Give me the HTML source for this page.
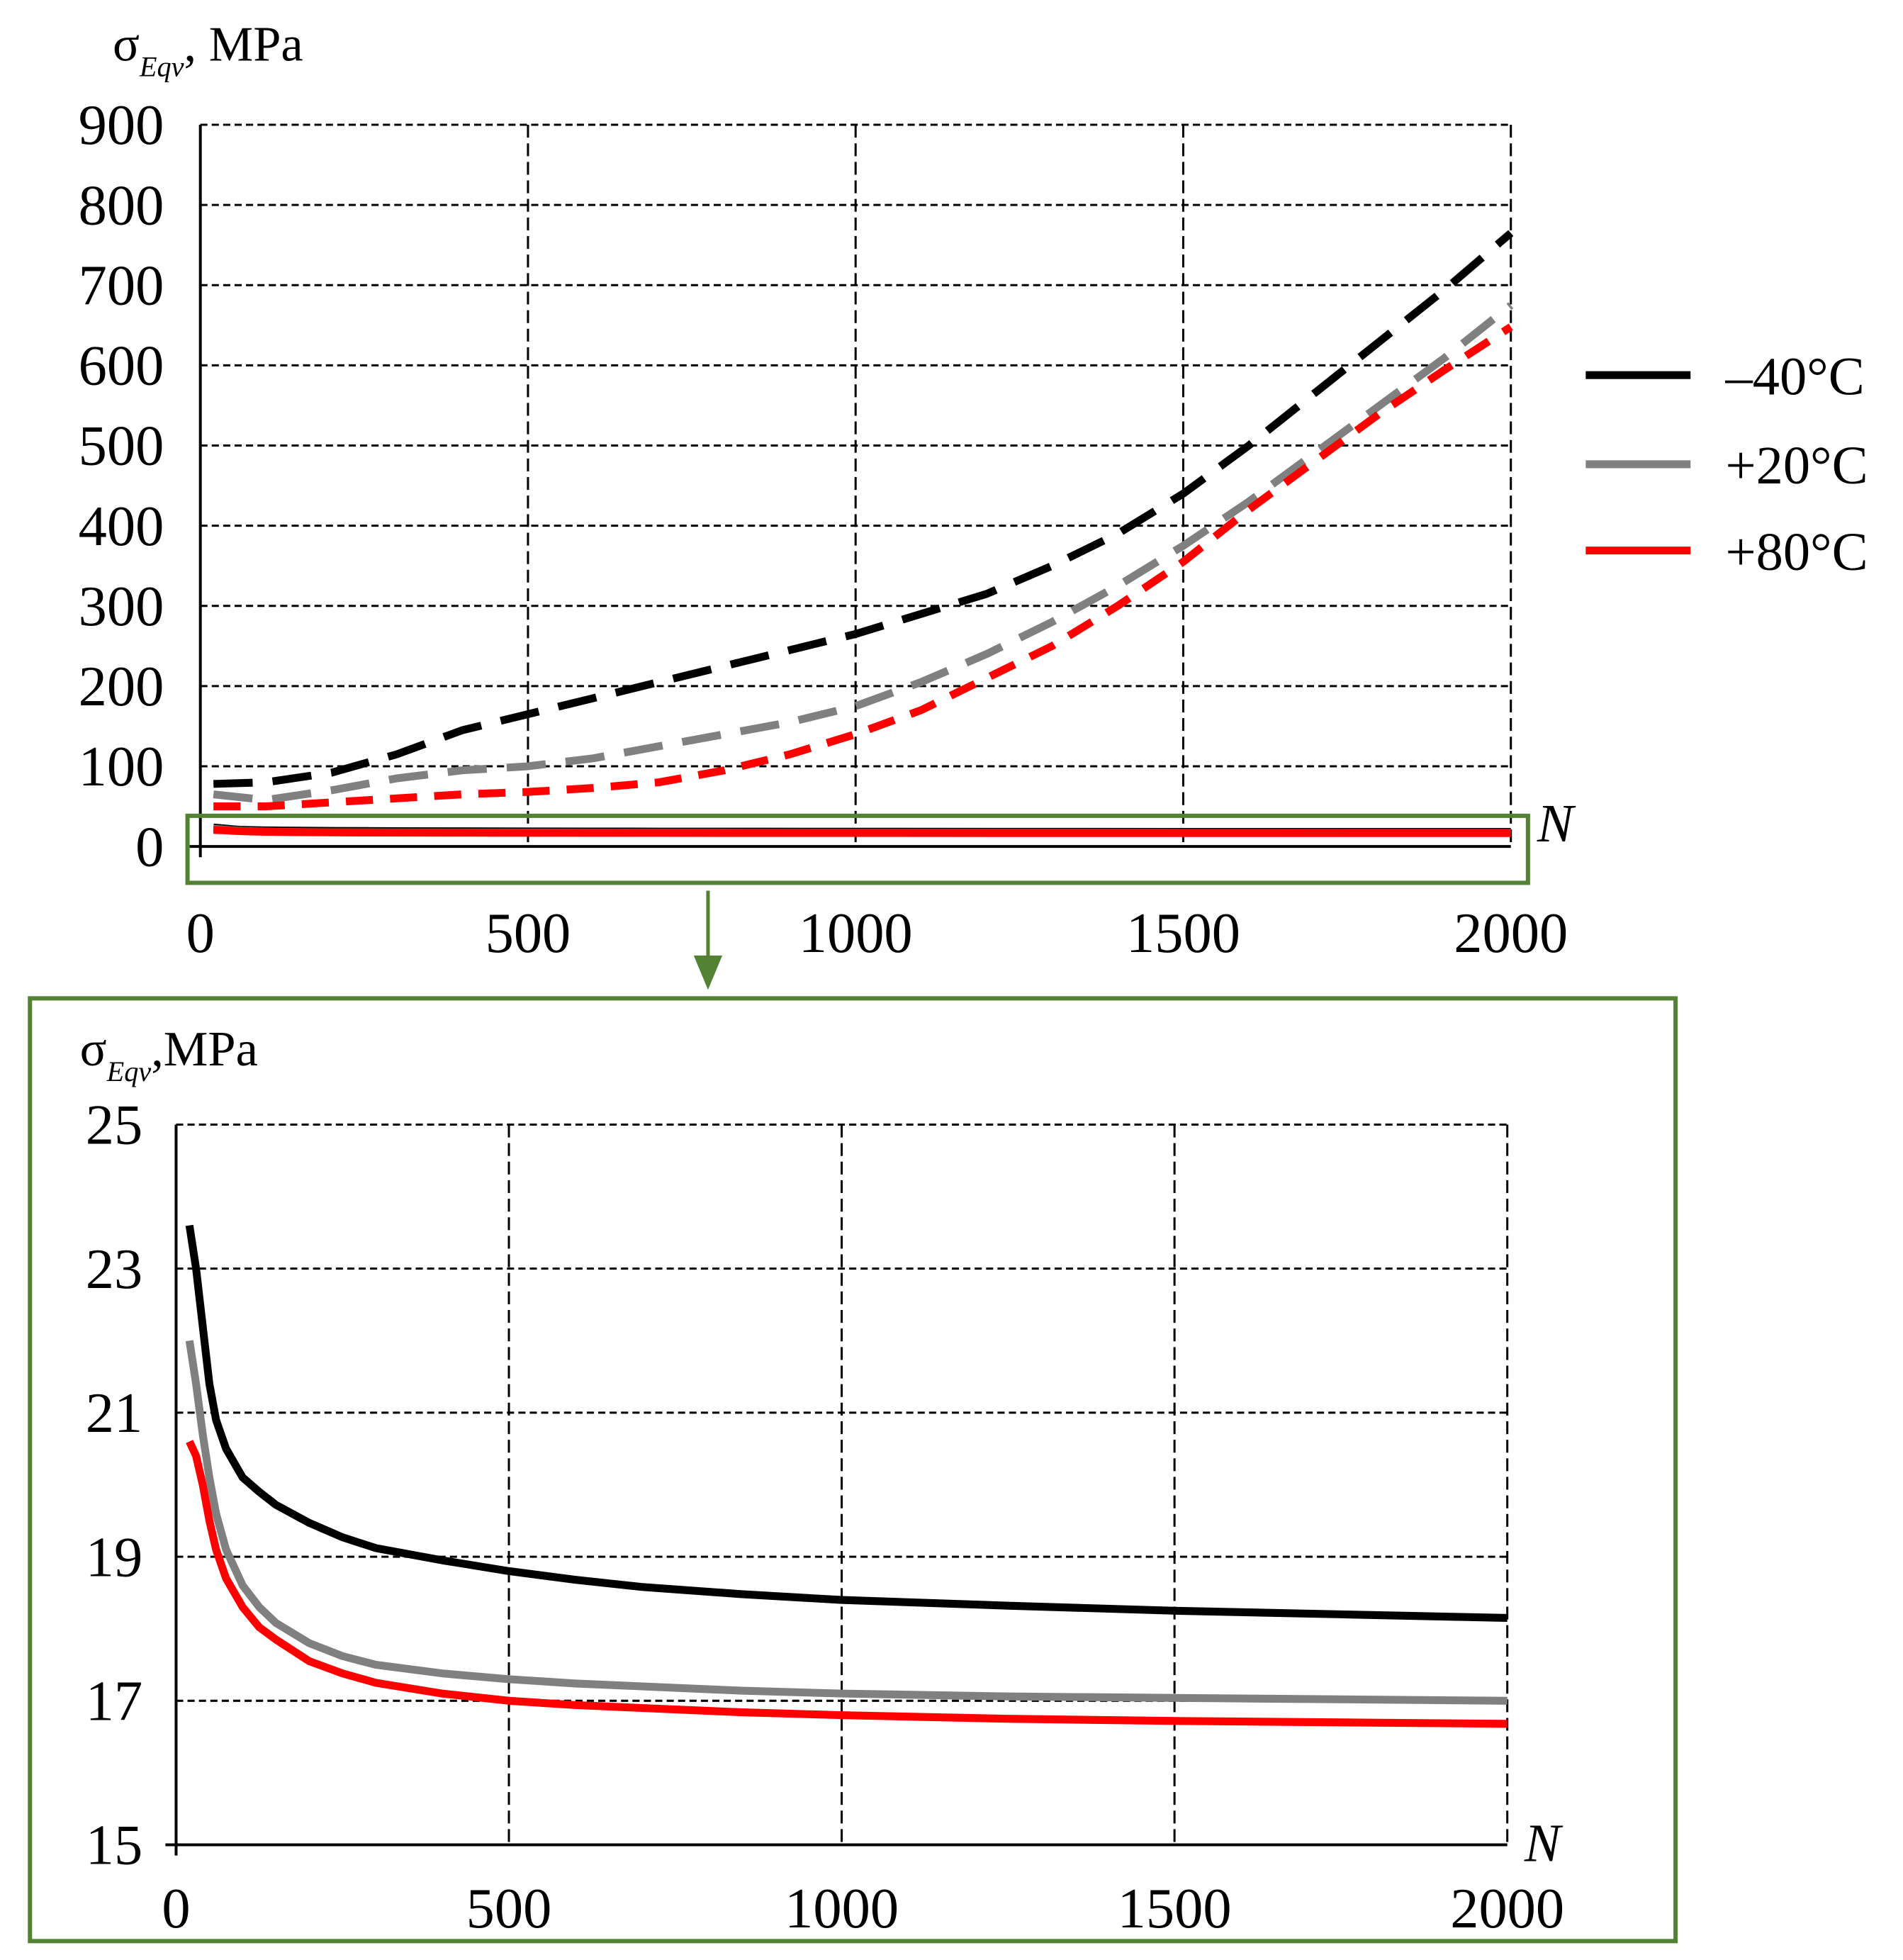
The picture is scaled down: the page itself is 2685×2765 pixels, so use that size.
<!DOCTYPE html>
<html><head><meta charset="utf-8"><style>
html,body{margin:0;padding:0;background:#fff}
svg{display:block}
text{font-family:"Liberation Serif",serif;fill:#000}
</style></head><body>
<svg id="s" width="2685" height="2765" viewBox="0 0 2685 2765" xmlns="http://www.w3.org/2000/svg">
<g id="g" transform="scale(1.006)"></g>
</svg>
<script>
// Top chart data
const topX = [0,100,200,300,400,500,600,700,800,900,1000,1100,1200,1300,1400,1500,1600,1700,1800,1900,2000];
const topBlack = [78,80,92,115,145,165,185,205,225,245,265,290,315,350,390,440,500,565,630,695,765];
const topGray = [65,58,70,85,95,100,110,125,140,155,175,205,240,280,325,375,430,490,550,610,675];
const topRed = [50,50,55,60,65,68,73,80,95,115,140,170,210,250,300,355,420,480,540,595,648];
const topYTicks = [0,100,200,300,400,500,600,700,800,900];
const xTicks = [0,500,1000,1500,2000];
// Bottom chart data
const botX = [20,30,40,50,60,75,100,125,150,200,250,300,400,500,600,700,850,1000,1250,1500,1750,2000];
const botBlack = [23.6,23.0,22.2,21.4,20.9,20.5,20.1,19.9,19.72,19.47,19.27,19.12,18.95,18.8,18.68,18.58,18.48,18.4,18.32,18.25,18.2,18.15];
const botGray = [22.0,21.4,20.7,20.1,19.6,19.1,18.6,18.3,18.08,17.8,17.62,17.5,17.38,17.3,17.24,17.2,17.14,17.1,17.06,17.04,17.02,17.0];
const botRed = [20.6,20.4,20.0,19.5,19.1,18.7,18.3,18.02,17.85,17.55,17.38,17.25,17.1,17.0,16.94,16.9,16.84,16.8,16.75,16.72,16.7,16.68];
const botYTicks = [15,17,19,21,23,25];
const legendLabels = ["\u201340\u00b0C","+20\u00b0C","+80\u00b0C"];

const NS="http://www.w3.org/2000/svg";
const G=document.getElementById('g');
function el(tag,attrs,parent){const e=document.createElementNS(NS,tag);for(const k in attrs)e.setAttribute(k,attrs[k]);(parent||G).appendChild(e);return e;}
function txt(x,y,s,size,anchor,parent){const t=el('text',{x:x,y:y,'font-size':size,'text-anchor':anchor||'start'},parent);t.textContent=s;return t;}

const tx=v=>281+(v/2000)*(2119-281);
const ty=v=>1187-(v/900)*(1187-175);
const bx=v=>247+(v/2000)*(2114-247);
const by=v=>2587-((v-15)/10)*(2587-1577);
function pts(xs,ys,fx,fy){return xs.map((x,i)=>fx(x)+','+fy(ys[i])).join(' ');}

// ---- TOP CHART ----
const topG=el('g',{});


topYTicks.forEach(v=>{
  if(v>0){const l=el('line',{x1:tx(0),x2:tx(2000),y1:ty(v),y2:ty(v),stroke:'#000','stroke-width':3,'stroke-dasharray':'10 6'},topG);
  
  }
  const t=txt(230,ty(v)+27,String(v),80,'end',topG);
  
  
});
xTicks.forEach(v=>{
  if(v>0){const l=el('line',{x1:tx(v),x2:tx(v),y1:ty(900),y2:ty(0),stroke:'#000','stroke-width':3,'stroke-dasharray':'18 8'},topG);
  
  }
  const t=txt(tx(v),1335,String(v),80,'middle',topG);
  
  
});
let a=el('line',{x1:tx(0),x2:tx(0),y1:ty(900),y2:ty(0)+15,stroke:'#000','stroke-width':4},topG);

a=el('line',{x1:tx(0)-15,x2:tx(2000),y1:ty(0),y2:ty(0),stroke:'#000','stroke-width':4},topG);


const topSeries=[[topBlack,'#000','55 28','series-minus40-dashed'],[topGray,'#808080','55 28','series-plus20-dashed'],[topRed,'#ff0000','38 24','series-plus80-dashed']];
topSeries.forEach(([ys,c,d,n])=>{
  const p=el('polyline',{points:pts(topX.map(v=>Math.max(v,20)),ys,tx,ty),fill:'none',stroke:c,'stroke-width':11,'stroke-dasharray':d},topG);
  
  
});
[[botBlack,'#000'],[botGray,'#808080'],[botRed,'#ff0000']].forEach(([ys,c])=>{
  const p=el('polyline',{points:pts(botX,ys,tx,ty),fill:'none',stroke:c,'stroke-width':11},topG);
  
  
});
let t=txt(2156,1180,'N',76,'start',topG);t.setAttribute('font-style','italic');

t=el('text',{x:158,y:85,'font-size':70},topG);
t.innerHTML='σ<tspan font-size="40" font-style="italic" dy="22">Eqv</tspan><tspan dy="-22">, MPa</tspan>';


// legend
const legC=['#000','#808080','#ff0000'];const legY=[526,651,772];
legendLabels.forEach((s,i)=>{
  const l=el('line',{x1:2224,x2:2371,y1:legY[i],y2:legY[i],stroke:legC[i],'stroke-width':11});
  
  const tt=txt(2420,legY[i]+27,s,76,'start');
  
});

// zoom box + arrow
a=el('rect',{x:263,y:1144,width:1880,height:94,fill:'none',stroke:'#548235','stroke-width':6});

a=el('line',{x1:993,x2:993,y1:1249,y2:1350,stroke:'#548235','stroke-width':5});

a=el('polygon',{points:'973,1340 1013,1340 993,1388',fill:'#548235'});


// ---- BOTTOM CHART ----
a=el('rect',{x:42,y:1400,width:2308,height:1322,fill:'none',stroke:'#548235','stroke-width':6});

const botG=el('g',{});


botYTicks.forEach(v=>{
  if(v>15){const l=el('line',{x1:bx(0),x2:bx(2000),y1:by(v),y2:by(v),stroke:'#000','stroke-width':3,'stroke-dasharray':'10 6'},botG);
  }
  const tt=txt(200,by(v)+27,String(v),80,'end',botG);
  
});
xTicks.forEach(v=>{
  if(v>0){const l=el('line',{x1:bx(v),x2:bx(v),y1:by(25),y2:by(15),stroke:'#000','stroke-width':3,'stroke-dasharray':'18 8'},botG);
  }
  const tt=txt(bx(v),2703,String(v),80,'middle',botG);
  
});
a=el('line',{x1:bx(0),x2:bx(0),y1:by(25),y2:by(15)+15,stroke:'#000','stroke-width':4},botG);

a=el('line',{x1:bx(0)-15,x2:bx(2000),y1:by(15),y2:by(15),stroke:'#000','stroke-width':4},botG);

[[botBlack,'#000','series-minus40'],[botGray,'#808080','series-plus20'],[botRed,'#ff0000','series-plus80']].forEach(([ys,c,n])=>{
  const p=el('polyline',{points:pts(botX,ys,bx,by),fill:'none',stroke:c,'stroke-width':11,'stroke-linejoin':'round'},botG);
  
});
t=txt(2138,2610,'N',76,'start',botG);t.setAttribute('font-style','italic');

t=el('text',{x:112,y:1494,'font-size':70},botG);
t.innerHTML='σ<tspan font-size="40" font-style="italic" dy="22">Eqv</tspan><tspan dy="-22">,MPa</tspan>';

</script>
</body></html>
